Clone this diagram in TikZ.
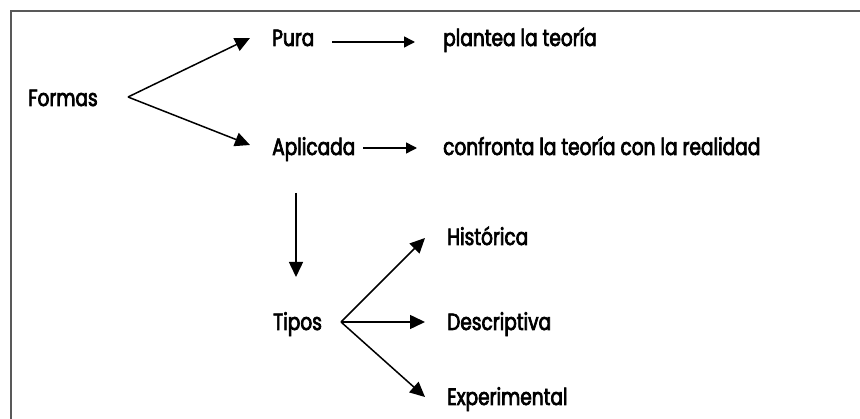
\documentclass[tikz,border=0pt]{standalone}
\usepackage{fontspec}
\setmainfont{Poppins}[FakeStretch=0.79,FakeBold=3]
\usetikzlibrary{arrows.meta}
\begin{document}
\begin{tikzpicture}[x=1pt,y=-1pt,
  lbl/.style={anchor=base west,inner sep=0pt,font=\fontsize{23.5}{27}\selectfont,text=black},
  arr/.style={line width=1.5pt,-{Triangle[length=15pt,width=14pt]}},
  sarr/.style={line width=1.5pt,-{Triangle[length=11pt,width=11pt]}}]
\useasboundingbox (0,0) rectangle (860,419);
\fill[white] (0,0) rectangle (860,419);
\draw[black!65,line width=2.2pt] (11,419) -- (11,11) -- (860,11);
% nodes
\node[lbl] (formas) at (28,106) {Formas};
\node[lbl] (pura) at (272,46) {Pura};
\node[lbl] (plantea) at (443,46) {plantea la teoría};
\node[lbl] (aplicada) at (272,155) {Aplicada};
\node[lbl] (confronta) at (443,155) {confronta la teoría con la realidad};
\node[lbl] (tipos) at (273,330) {Tipos};
\node[lbl] (historica) at (447,245) {Histórica};
\node[lbl] (descriptiva) at (447,330) {Descriptiva};
\node[lbl] (experimental) at (447,405) {Experimental};
% branch points and tips
\coordinate (fo) at (128,97);
\coordinate (tpura) at (250,38);
\coordinate (tapl) at (250,145);
\coordinate (ti) at (341,322);
\coordinate (thist) at (425,238);
\coordinate (tdesc) at (425,322);
\coordinate (texp) at (425,397);
\coordinate (vtop) at (296,193);
\coordinate (vbot) at (296,277);
\coordinate (ps) at (332,42);
\coordinate (pe) at (415,42);
\coordinate (as) at (363,148);
\coordinate (ae) at (417,148);
% connectors
\draw[arr] (fo) -- (tpura);
\draw[arr] (fo) -- (tapl);
\draw[sarr] (ps) -- (pe);
\draw[sarr] (as) -- (ae);
\draw[arr] (vtop) -- (vbot);
\draw[arr] (ti) -- (thist);
\draw[arr] (ti) -- (tdesc);
\draw[arr] (ti) -- (texp);
\end{tikzpicture}
\end{document}
